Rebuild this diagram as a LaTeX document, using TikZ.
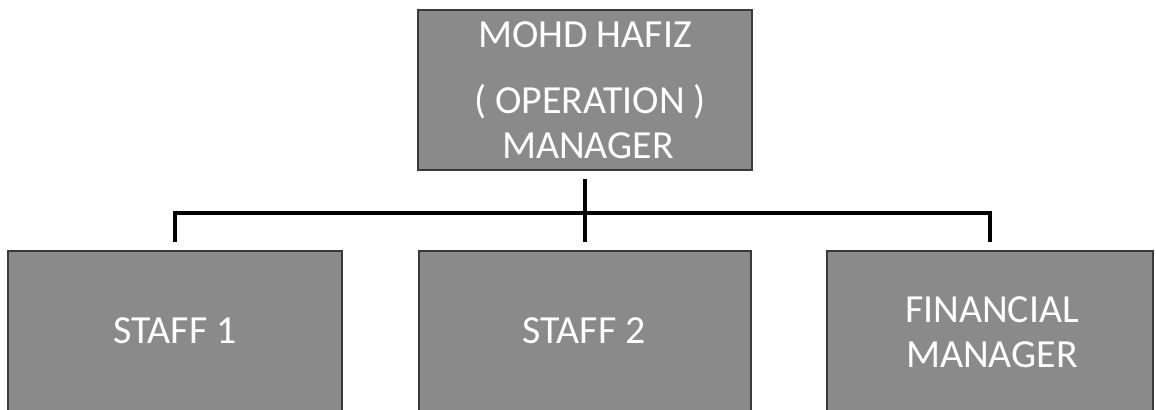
\documentclass[tikz,border=0pt]{standalone}
\usepackage{fontspec}
\setmainfont{Carlito}
\definecolor{boxfill}{HTML}{8A8A8A}
\definecolor{boxline}{HTML}{3A3A3A}
\begin{document}
\begin{tikzpicture}[x=0.03cm,y=-0.03cm,
  orgbox/.style={draw=boxline,line width=1pt,fill=boxfill,rectangle,inner sep=0pt},
  lbl/.style={text=white,anchor=base,inner sep=0pt,font=\fontsize{34}{40}\selectfont},
  conn/.style={draw=black,line width=3.4pt}]
\useasboundingbox (0,0) rectangle (1156,409);
\fill[white] (0,0) rectangle (1156,409);
% boxes
\node[orgbox,minimum width=10.02cm,minimum height=4.8cm] (top) at (585,90) {};
\node[orgbox,minimum width=10.02cm,minimum height=5.1cm] (s1) at (175,336) {};
\node[orgbox,minimum width=9.96cm,minimum height=5.1cm] (s2) at (585,336) {};
\node[orgbox,minimum width=9.78cm,minimum height=5.1cm] (fm) at (990,336) {};
% labels
\node[lbl] (t1) at (585,47) {MOHD HAFIZ};
\node[lbl] (t2) at (590,113) {( OPERATION )};
\node[lbl] (t3) at (588,158) {MANAGER};
\node[lbl] (l1) at (175,343) {STAFF 1};
\node[lbl] (l2) at (584,343) {STAFF 2};
\node[lbl] (l3) at (992,322) {FINANCIAL};
\node[lbl] (l4) at (992,367) {MANAGER};
% connectors
\path (top.south) ++(0,8) coordinate (tb);
\path (tb) ++(0,34) coordinate (j);
\path (s1.north) ++(0,-8) coordinate (s1t);
\path (s2.north) ++(0,-8) coordinate (s2t);
\path (fm.north) ++(0,-8) coordinate (fmt);
\draw[conn] (tb) -- (j);
\draw[conn] (j) -- (s2t);
\draw[conn] (s1t) -- (s1t |- j) -- (fmt |- j) -- (fmt);
\end{tikzpicture}
\end{document}
